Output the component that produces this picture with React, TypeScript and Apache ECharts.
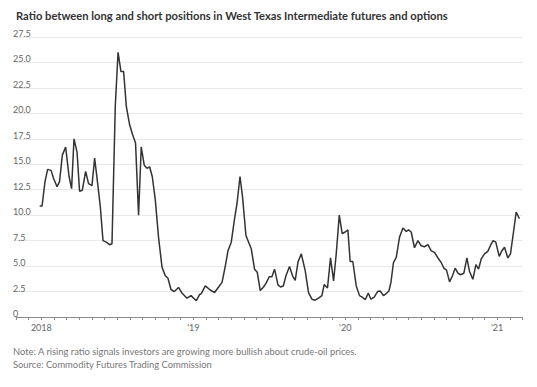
import React, { useEffect, useRef } from "react";
import * as echarts from "echarts";

// x: months since Jan 1, 2018, y: long/short ratio
const monthsSinceJan2018 = [
  -0.13, 0.06, 0.29, 0.5, 0.77, 0.97, 1.24, 1.44, 1.66, 1.92, 2.19, 2.39, 2.58, 2.82, 3.02, 3.24,
  3.5, 3.73, 4.0, 4.21, 4.44, 4.66, 4.87, 5.13, 5.39, 5.58, 5.84, 6.06, 6.29, 6.5, 6.71, 6.97,
  7.21, 7.44, 7.68, 7.89, 8.13, 8.34, 8.55, 8.76, 9.0, 9.26, 9.53, 9.79, 10.0, 10.24, 10.5, 10.84,
  11.11, 11.5, 11.82, 12.24, 12.5, 12.63, 12.95, 13.34, 13.68, 14.0, 14.27, 14.53, 14.74, 15.0,
  15.26, 15.45, 15.69, 15.89, 16.16, 16.37, 16.58, 16.84, 17.05, 17.29, 17.55, 17.74, 18.0, 18.21,
  18.42, 18.69, 18.89, 19.11, 19.32, 19.6, 19.84, 20.05, 20.27, 20.53, 20.84, 21.1, 21.37, 21.63,
  21.89, 22.16, 22.34, 22.6, 22.84, 23.08, 23.29, 23.53, 23.76, 24.0, 24.21, 24.39, 24.6, 24.87,
  25.13, 25.34, 25.58, 25.82, 26.03, 26.29, 26.55, 26.76, 27.02, 27.24, 27.45, 27.61, 27.81, 28.03,
  28.29, 28.56, 28.82, 29.01, 29.21, 29.47, 29.74, 30.0, 30.26, 30.53, 30.79, 31.05, 31.32, 31.58,
  31.79, 32.0, 32.24, 32.47, 32.68, 32.9, 33.1, 33.37, 33.61, 33.81, 34.08, 34.32, 34.53, 34.74,
  35.0, 35.26, 35.5, 35.68, 35.89, 36.16, 36.37, 36.58, 36.84, 37.05, 37.29, 37.5, 37.76,
];

const ratioValues = [
  10.9, 10.9, 13.3, 14.5, 14.4, 13.6, 12.8, 13.3, 15.9, 16.7, 13.8, 12.6, 17.5, 16.2, 12.35, 12.45,
  14.3, 13.1, 12.9, 15.6, 13.2, 10.8, 7.5, 7.35, 7.1, 7.2, 20.7, 26.0, 24.1, 24.1, 20.7, 18.9,
  17.9, 17.1, 10.0, 16.7, 14.9, 14.6, 14.75, 13.8, 11.5, 7.8, 4.9, 4.05, 3.8, 2.7, 2.5, 2.9,
  2.35, 1.85, 2.1, 1.6, 2.2, 2.3, 3.05, 2.65, 2.4, 2.95, 3.4, 5.0, 6.5, 7.35,
  9.65, 11.1, 13.8, 11.8, 8.0, 7.35, 6.7, 4.7, 4.4, 2.6, 2.95, 3.3, 3.95, 3.95,
  4.7, 3.15, 2.95, 3.05, 4.05, 4.95, 4.05, 3.6, 5.4, 6.2, 4.55, 2.4, 1.75, 1.65,
  1.85, 2.1, 3.2, 2.85, 5.8, 3.55, 6.2, 10.0, 8.2, 8.35, 8.55, 5.45, 5.45, 3.05,
  2.1, 1.95, 1.7, 2.35, 1.75, 1.95, 2.5, 2.55, 2.1, 2.3, 2.55, 3.4, 5.35, 5.85,
  7.85, 8.75, 8.4, 8.55, 8.35, 6.8, 7.5, 7.0, 6.9, 7.1, 6.5, 6.35, 5.8, 5.35,
  4.8, 4.6, 3.45, 4.05, 4.8, 4.3, 4.15, 4.3, 5.8, 4.5, 3.7, 5.15, 4.7, 5.7,
  6.2, 6.45, 7.1, 7.5, 7.35, 5.95, 6.5, 6.85, 5.8, 6.2, 8.35, 10.3, 9.65,
];

const yearLabels: Record<number, string> = { 0: "2018", 12: "'19", 24: "'20", 36: "'21" };

const titleText =
  "Ratio between long and short positions in West Texas Intermediate futures and options";
const noteText = "Note: A rising ratio signals investors are growing more bullish about crude-oil prices.";
const sourceText = "Source: Commodity Futures Trading Commission";

export default function App() {
  const ref = useRef<HTMLDivElement>(null);

  useEffect(() => {
    if (!ref.current) return;
    const chart = echarts.init(ref.current, undefined, { renderer: "svg" });
    const data = monthsSinceJan2018.map((m, i) => [m, ratioValues[i]]);
    chart.setOption({
      animation: false,
      backgroundColor: "#ffffff",
      textStyle: { fontFamily: "Lato" },
      title: {
        text: titleText,
        left: 11,
        top: 5,
        textStyle: { fontFamily: "Lato", fontSize: 11.2, fontWeight: "bold", color: "#333333" },
      },
      grid: { left: 16, right: 14.5, top: 37, bottom: 70 },
      xAxis: {
        type: "value",
        min: -2,
        max: 38,
        interval: 1,
        axisLine: { show: true, lineStyle: { color: "#8a8a8a", width: 1 } },
        axisTick: { show: true, length: 3, lineStyle: { color: "#8a8a8a" } },
        splitLine: { show: false },
        axisLabel: {
          color: "#666666",
          fontSize: 9,
          margin: 6,
          formatter: (v: number) => yearLabels[Math.round(v)] ?? "",
        },
      },
      yAxis: {
        type: "value",
        min: 0,
        max: 27.5,
        interval: 2.5,
        axisLine: { show: false },
        axisTick: { show: false },
        splitLine: { show: true, lineStyle: { color: "#e9e9e9", width: 1 } },
        axisLabel: {
          inside: true,
          margin: -3,
          align: "left",
          verticalAlign: "bottom",
          lineHeight: 7,
          padding: [0, 0, 0, 0],
          color: "#666666",
          fontSize: 9,
          formatter: (v: number) => (v === 0 ? "0" : v.toFixed(1)),
        },
      },
      series: [
        {
          type: "line",
          data,
          symbol: "none",
          lineStyle: { color: "#333333", width: 1.5 },
          z: 3,
        },
      ],
      graphic: [
        {
          type: "text",
          left: 13,
          top: 347,
          style: { text: noteText, fill: "#777777", fontSize: 9.4, fontFamily: "Lato" },
        },
        {
          type: "text",
          left: 13,
          top: 360,
          style: { text: sourceText, fill: "#777777", fontSize: 9.4, fontFamily: "Lato" },
        },
      ],
    });
    return () => chart.dispose();
  }, []);

  return (
    <div
      ref={ref}
      style={{ position: "fixed", left: 0, top: 0, width: 537, height: 387, background: "#fff" }}
    />
  );
}
